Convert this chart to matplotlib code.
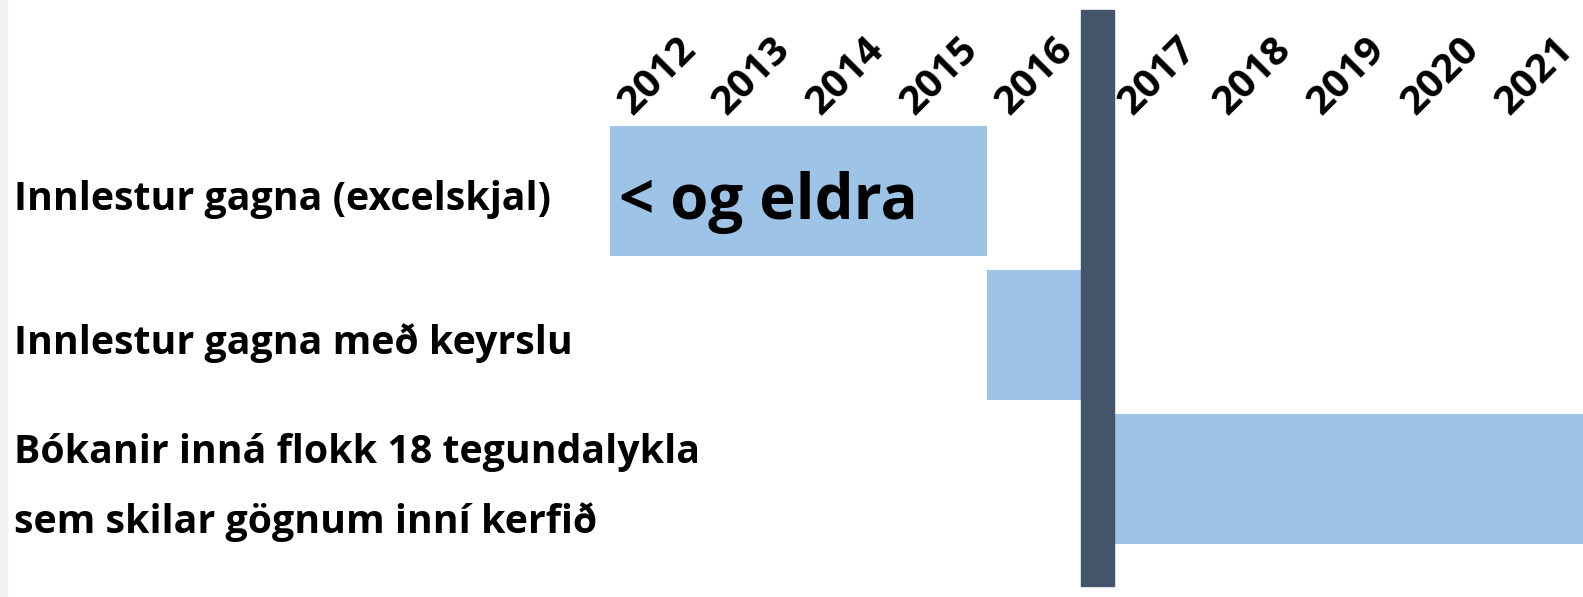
import matplotlib
matplotlib.use("Agg")
import matplotlib.pyplot as plt
from matplotlib.patches import Rectangle

# data
years = [2012, 2013, 2014, 2015, 2016, 2017, 2018, 2019, 2020, 2021]
tasks = ["Innlestur gagna (excelskjal)",
         "Innlestur gagna með keyrslu",
         "Bókanir inná flokk 18 tegundalykla\nsem skilar gögnum inní kerfið"]
task_start = [2012, 2016, 2017]
task_end = [2016, 2017, 2023]
bar_text = ["< og eldra", "", ""]
divider_year = 2017   # dark line between 2016 and 2017

GAP = 0.31      # extra space taken by the divider
DIV_W = 0.35

def xpos(y):
    return (y - 2012) + (GAP if y >= divider_year else 0)

plt.rcParams['font.family'] = ['Open Sans', 'DejaVu Sans']
fig = plt.figure(figsize=(15.83, 5.97), dpi=100)
ax = fig.add_axes([0, 0, 1, 1])
ax.set_xlim(-6.47, 10.32)
ax.set_ylim(2.82, -1.326)
ax.axis('off')

# left grey strip
ax.add_patch(Rectangle((0, 0), 7 / 1583, 1, transform=ax.transAxes,
                       color='#eef2f5', zorder=0))

bar_color = '#9dc3e6'
for i, (s, e) in enumerate(zip(task_start, task_end)):
    x0 = xpos(s)
    x1 = xpos(e)
    ax.barh(i, x1 - x0, left=x0, height=0.9, color=bar_color, zorder=2)
    if bar_text[i]:
        ax.text(x0 + 0.1, i + 0.08, bar_text[i], fontsize=44.5, fontweight='bold',
                va='center', ha='left', zorder=3)
    ax.text(-6.32, i + 0.06, tasks[i], fontsize=28.3, fontweight='bold',
            va='center', ha='left', linespacing=2.0)

# divider
ax.add_patch(Rectangle((xpos(2016) + 1, -1.257), DIV_W, 4.0,
                       color='#44546a', zorder=4))

for y in years:
    ax.text(xpos(y) + 0.5, -0.80, str(y), rotation=45, fontsize=29,
            fontweight='bold', ha='center', va='center')

fig.savefig('out.png', dpi=100)
